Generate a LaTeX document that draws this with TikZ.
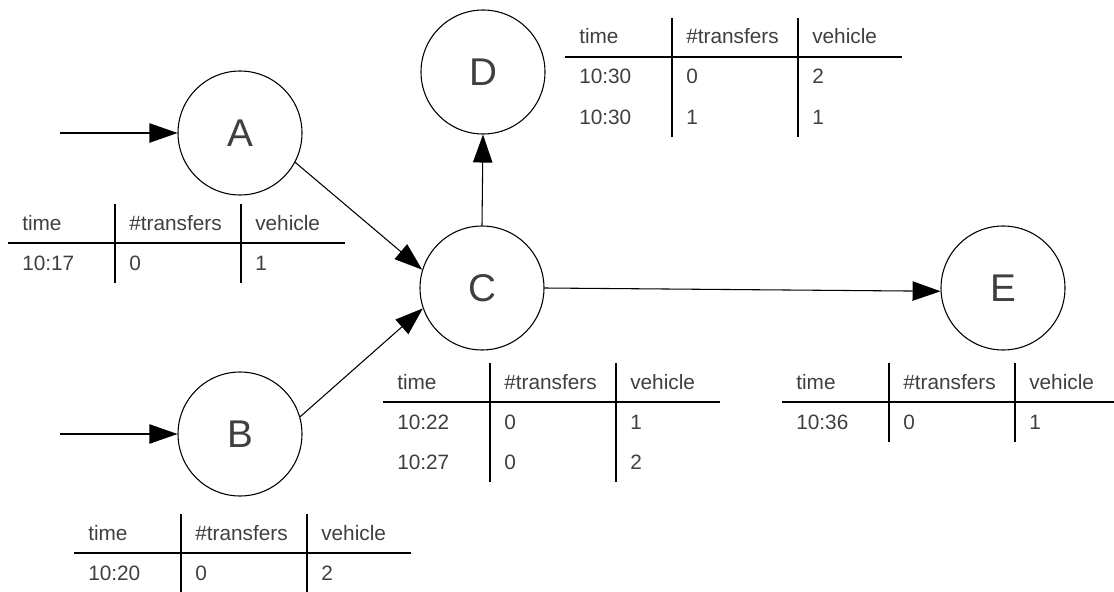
\documentclass[tikz,border=0pt]{standalone}
\usepackage{fontspec}
\setmainfont{Liberation Sans}
\usetikzlibrary{arrows.meta}
\definecolor{inkgray}{HTML}{3F3F3F}

\tikzset{
  stop/.style={circle, draw=black, line width=0.8pt, minimum size=93pt,
    inner sep=0pt, text=inkgray, font=\fontsize{29}{34}\selectfont},
  link/.style={draw=black, line width=0.8pt,
    -{Triangle[length=21pt,width=14.5pt]}},
  tline/.style={draw=black, line width=0.8pt},
  cell/.style={anchor=base west, inner sep=0pt, text=inkgray,
    font=\fontsize{15.6}{18}\selectfont},
  % departure table: #1 = rows time/transfers/vehicle, #2 = number of rows
  pics/deptable/.style 2 args={code={
    \draw[tline] (0,0) -- (337,0);
    \draw[tline] (107,-39) -- (107,40*#2);
    \draw[tline] (233,-39) -- (233,40*#2);
    \node[cell] (-h1) at (14,-13) {time};
    \node[cell] (-h2) at (121,-13) {\#transfers};
    \node[cell] (-h3) at (247,-13) {vehicle};
    \foreach \tm/\nt/\vh [count=\i] in {#1} {
      \node[cell] (-t\i) at (14,40*\i-13) {\tm};
      \node[cell] (-n\i) at (121,40*\i-13) {\nt};
      \node[cell] (-v\i) at (247,40*\i-13) {\vh};
    }
  }}
}

\begin{document}
\begin{tikzpicture}[x=0.75pt, y=-0.75pt]
  \useasboundingbox (0,0) rectangle (1114,592);
  \clip (0,0) rectangle (1114,592);

  % stops
  \node[stop] (A) at (240,133) {A};
  \node[stop] (B) at (240,434) {B};
  \node[stop] (C) at (482,288) {C};
  \node[stop] (D) at (483,72)  {D};
  \node[stop] (E) at (1003,288) {E};

  % free ends of the incoming arrows
  \coordinate (inA) at (60,133);
  \coordinate (inB) at (60,434);

  % connections
  \draw[link] (inA) -- (A.west);
  \draw[link] (inB) -- (B.west);
  \draw[link] (A.-28) -- (C.163);
  \draw[link] (B.16) -- (C.199);
  \draw[link] (C.north) -- (D.south);
  \draw[link] (C.east) -- (E.183);

  % departure tables
  \pic (tabA) at (8,243)   {deptable={10:17/0/1}{1}};
  \pic (tabB) at (74,553)  {deptable={10:20/0/2}{1}};
  \pic (tabC) at (383,402) {deptable={10:22/0/1, 10:27/0/2}{2}};
  \pic (tabD) at (565,57)  {deptable={10:30/0/2, 10:30/1/1}{2}};
  \pic (tabE) at (782,402) {deptable={10:36/0/1}{1}};
\end{tikzpicture}
\end{document}
